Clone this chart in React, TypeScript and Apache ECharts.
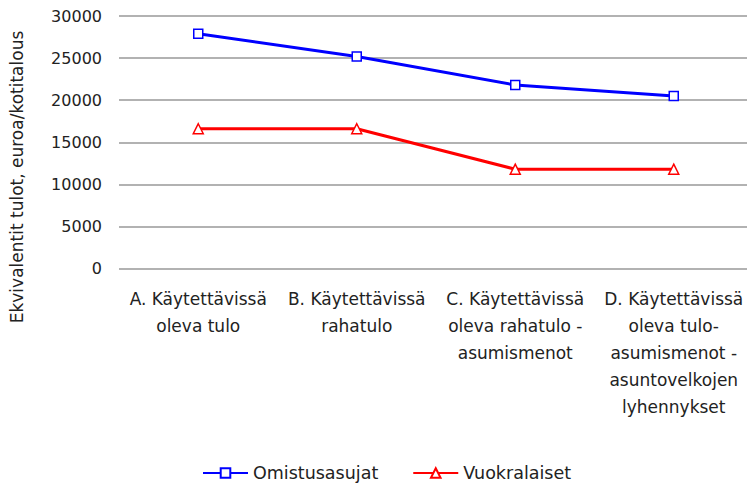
import React, { useEffect, useRef } from "react";
import * as echarts from "echarts";

const categories = [
  "A. Käytettävissä\noleva tulo",
  "B. Käytettävissä\nrahatulo",
  "C. Käytettävissä\noleva rahatulo -\nasumismenot",
  "D. Käytettävissä\noleva tulo-\nasumismenot -\nasuntovelkojen\nlyhennykset",
];
const omistusasujat = [27900, 25200, 21800, 20500];
const vuokralaiset = [16600, 16600, 11800, 11800];
const seriesNames = ["Omistusasujat", "Vuokralaiset"];
const yAxisTitle = "Ekvivalentit tulot, euroa/kotitalous";

export default function App() {
  const ref = useRef<HTMLDivElement>(null);
  useEffect(() => {
    if (!ref.current) return;
    const chart = echarts.init(ref.current, null, { renderer: "svg" });
    const font = "DejaVu Sans";
    chart.setOption({
      animation: false,
      backgroundColor: "#ffffff",
      grid: { left: 119, width: 634, top: 16, bottom: 218.5, containLabel: false },
      xAxis: {
        type: "category",
        data: categories,
        boundaryGap: true,
        axisLine: { show: false },
        axisTick: { show: false },
        axisLabel: {
          interval: 0,
          margin: 17,
          fontFamily: font,
          fontSize: 17,
          lineHeight: 27,
          color: "#222",
        },
      },
      yAxis: {
        type: "value",
        min: 0,
        max: 30000,
        interval: 5000,
        axisLine: { show: false },
        axisTick: { show: false },
        splitLine: { lineStyle: { color: "#999", width: 1.5 } },
        axisLabel: {
          margin: 17,
          fontFamily: font,
          fontSize: 16,
          color: "#222",
          formatter: (v: number) => String(v),
        },
      },
      legend: {
        left: 202,
        top: 464,
        padding: 0,
        itemWidth: 45,
        itemHeight: 12,
        itemGap: 34,
        textStyle: { fontFamily: font, fontSize: 17.5, color: "#222" },
        data: seriesNames,
      },
      graphic: [
        {
          type: "text",
          x: 17,
          y: 177,
          rotation: Math.PI / 2,
          style: {
            text: yAxisTitle,
            fontFamily: font,
            fontSize: 17,
            fill: "#222",
            textAlign: "center",
            textVerticalAlign: "middle",
          },
        },
      ],
      series: [
        {
          name: seriesNames[0],
          type: "line",
          data: omistusasujat,
          symbol: "rect",
          symbolSize: 9,
          lineStyle: { color: "#0000ff", width: 3 },
          itemStyle: { color: "#ffffff", borderColor: "#0000ff", borderWidth: 1.5 },
          emphasis: { disabled: true },
        },
        {
          name: seriesNames[1],
          type: "line",
          data: vuokralaiset,
          symbol: "triangle",
          symbolSize: 10,
          lineStyle: { color: "#ff0000", width: 3 },
          itemStyle: { color: "#ffffff", borderColor: "#ff0000", borderWidth: 1.5 },
          emphasis: { disabled: true },
        },
      ],
    });
    return () => chart.dispose();
  }, []);
  return (
    <div
      ref={ref}
      style={{ position: "fixed", left: 0, top: 0, width: 760, height: 487 }}
    />
  );
}
